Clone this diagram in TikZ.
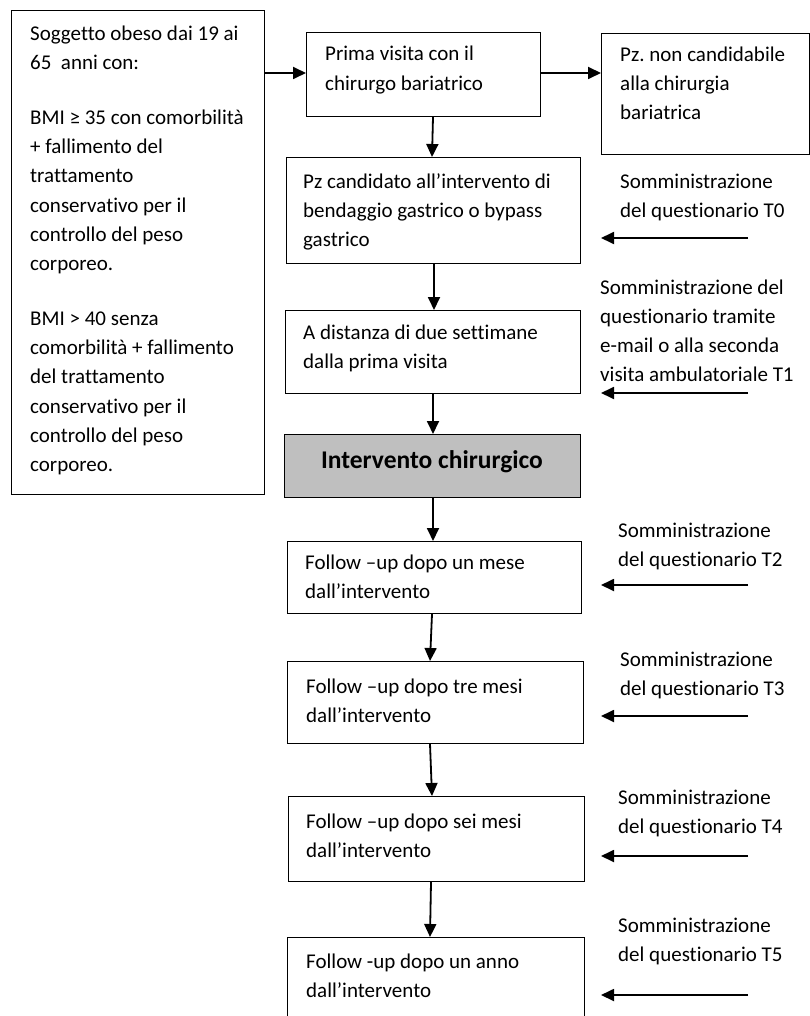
\documentclass[tikz,border=0pt]{standalone}
\usepackage{fontspec}
\setmainfont{Carlito}[Ligatures={NoCommon}]
\usetikzlibrary{arrows.meta}
\definecolor{boxgray}{HTML}{BFBFBF}
\frenchspacing
\tikzset{
  box/.style={draw=black, line width=1.1pt, inner sep=0pt, anchor=north west},
  txt/.style={anchor=north west, inner sep=0pt, align=left, font=\fontsize{21}{29.2}\selectfont},
  arr/.style={line width=1.8pt, -{Triangle[length=13pt,width=12pt]}}
}
\newcommand{\bx}[5]{\node[box, minimum width=#4pt, minimum height=#5pt] (#1) at (#2,#3) {};}
\begin{document}
\begin{tikzpicture}[x=1pt,y=-1pt]
\useasboundingbox (0,0) rectangle (810,1016);
% boxes (name, x, y, width, height)
\bx{L}{11}{10}{253}{484}
\bx{B2}{306}{32}{234}{84}
\bx{B3}{601}{33}{208}{121}
\bx{B4}{286}{157}{294}{106}
\bx{B5}{285}{310}{295}{83}
\node[box, fill=boxgray, minimum width=296pt, minimum height=63pt] (B6) at (284,434) {};
\bx{F1}{287}{541}{294}{72}
\bx{F2}{287}{661}{296}{82}
\bx{F3}{288}{796}{296}{85}
\bx{F4}{287}{937}{297}{90}
% texts (top = baseline - 20.44)
\node[txt] (tL) at (30,19.6) {\strut Soggetto obeso dai 19 ai\\
65\ \ anni con:\\[25.8pt]
BMI ≥ 35 con comorbilità\\
+ fallimento del\\
trattamento\\
conservativo per il\\
controllo del peso\\
corporeo.\\[25.8pt]
BMI > 40 senza\\
comorbilità + fallimento\\
del trattamento\\
conservativo per il\\
controllo del peso\\
corporeo.};
\node[txt] (tB2) at (325,40.3) {\strut Prima visita con il\\ chirurgo bariatrico};
\node[txt] (tB3) at (620,40.8) {\strut Pz. non candidabile\\ alla chirurgia\\ bariatrica};
\node[txt] (tB4) at (303,167.5) {\strut Pz candidato all’intervento di\\ bendaggio gastrico o bypass\\ gastrico};
\node[txt] (tB5) at (303,319) {\strut A distanza di due settimane\\ dalla prima visita};
\node[inner sep=0pt, anchor=base, font=\fontsize{25.5}{30}\selectfont\bfseries] (tB6) at (432,468) {Intervento chirurgico};
\node[txt] (tF1) at (305,549) {\strut Follow –up dopo un mese\\ dall’intervento};
\node[txt] (tF2) at (306,672.5) {\strut Follow –up dopo tre mesi\\ dall’intervento};
\node[txt] (tF3) at (306,807.5) {\strut Follow –up dopo sei mesi\\ dall’intervento};
\node[txt] (tF4) at (306,947.5) {\strut Follow -up dopo un anno\\ dall’intervento};
% right labels
\node[txt] (tT0) at (620,167.5) {\strut Somministrazione\\ del questionario T0};
\node[txt] (tT1) at (600,273.5) {\strut Somministrazione del\\ questionario tramite\\ e-mail o alla seconda\\ visita ambulatoriale T1};
\node[txt] (tT2) at (618,516.5) {\strut Somministrazione\\ del questionario T2};
\node[txt] (tT3) at (620,645.5) {\strut Somministrazione\\ del questionario T3};
\node[txt] (tT4) at (618,783.5) {\strut Somministrazione\\ del questionario T4};
\node[txt] (tT5) at (618,911.5) {\strut Somministrazione\\ del questionario T5};
% main connectors
\draw[arr] (L.east |- 0,73) -- (B2.west |- 0,73);
\draw[arr] (B2.east |- 0,73) -- (B3.west |- 0,73);
\draw[arr] (B2.south -| 433,0) -- (B4.north -| 432,0);
\draw[arr] (B4.south -| 434,0) -- (B5.north -| 434,0);
\draw[arr] (B5.south -| 433,0) -- (B6.north -| 433,0);
\draw[arr] (B6.south -| 433,0) -- (F1.north -| 433,0);
\draw[arr] (F1.south -| 432,0) -- (F2.north -| 430,0);
\draw[arr] (F2.south -| 430,0) -- (F3.north -| 432,0);
\draw[arr] (F3.south -| 431,0) -- (F4.north -| 430,0);
% questionnaire arrows
\foreach \n/\yy in {0/238,1/393,2/585,3/716,4/856,5/995}{
  \coordinate (s\n) at (748,\yy);
  \coordinate (e\n) at (601,\yy);
  \draw[arr] (s\n) -- (e\n);
}
\end{tikzpicture}
\end{document}
